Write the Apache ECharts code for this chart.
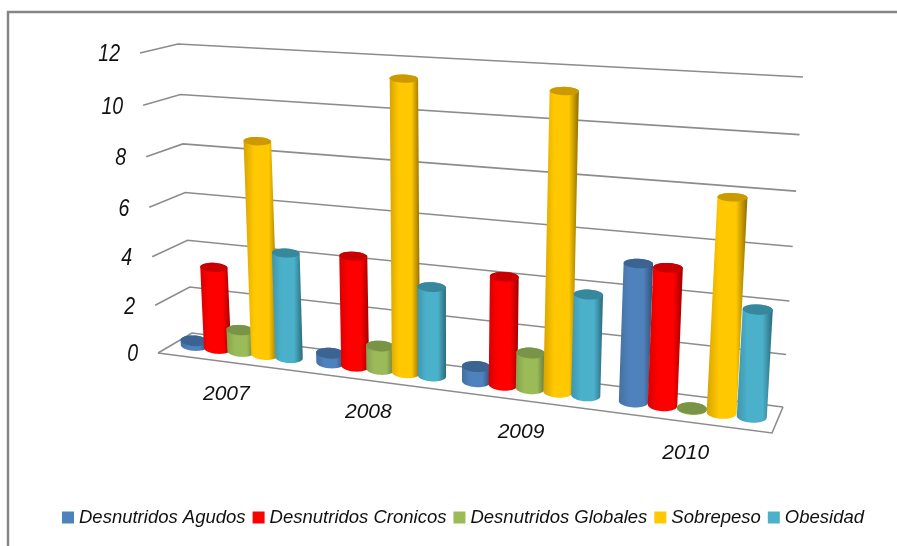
<!DOCTYPE html>
<html><head><meta charset="utf-8">
<script src="https://cdn.jsdelivr.net/npm/echarts@6/dist/echarts.min.js"></script>
<style>html,body{margin:0;padding:0;background:#fff}#c{width:897px;height:546px}</style>
</head><body><div id="c"></div>
<script>
const categories = ['2007','2008','2009','2010'];
const yTicks = [0,2,4,6,8,10,12];
const seriesNames = ['Desnutridos Agudos','Desnutridos Cronicos','Desnutridos Globales','Sobrepeso','Obesidad'];
const desnutridosAgudos = [0.2,0.4,0.6,5.25];
const desnutridosCronicos = [3.4,4.45,4.25,5.2];
const desnutridosGlobales = [0.9,0.95,1.4,0.03];
const sobrepeso = [8.65,11.4,11.3,7.95];
const obesidad = [4.3,3.55,3.9,4.0];
const seriesValues = [desnutridosAgudos,desnutridosCronicos,desnutridosGlobales,sobrepeso,obesidad];
const colors = ['#4F81BD','#FF0000','#9BBB59','#FFC800','#4BB0CA'];
const topColors = ['#3B6492','#C80000','#7A9447','#CC9A00','#37879D'];
const edgeLeft = ['#44709F','#D80000','#86A24C','#D8A300','#3F96AD'];
const edgeRight = ['#2F4F74','#A00000','#64793A','#8F6C00','#2B6A7C'];

// Projection of the 3D box drawn by the original chart
const B00=[192,333],B10=[783,407],B01=[178,44],B11=[803,77];
const F00=[158,353],F10=[772,433],F01=[140,53],F11=[792,92];
const GRID={left:100,top:50,width:600,height:300};
const warp=(t,k)=>t/(t+(1-t)*k);
const lerp=(a,b,t)=>[a[0]+(b[0]-a[0])*t,a[1]+(b[1]-a[1])*t];
function projU(U,v,w){
  const V=warp(v,1.057);
  const back=lerp(lerp(B00,B01,V),lerp(B10,B11,V),U);
  const front=lerp(lerp(F00,F01,V),lerp(F10,F11,V),U);
  return lerp(back,front,w);
}
const normU=x=>(x-GRID.left)/GRID.width;
const normV=y=>(GRID.top+GRID.height-y)/GRID.height;
const warpU=u=>warp(u,1.16);
const STEP=0.176, RADW=0.22, DEPTH=0.5, TILT=0.4;
function ellipsePts(U,v,from,to){
  const c=projU(U,v,DEPTH);
  const a=projU(U-0.02,v,DEPTH), b=projU(U+0.02,v,DEPTH);
  const dx=b[0]-a[0],dy=b[1]-a[1],len=Math.hypot(dx,dy);
  const T=[dx/len,dy/len];
  const f=projU(U,v,1), k=projU(U,v,0);
  const depthY=(f[1]-k[1])-(f[0]-k[0])*T[1]/T[0];
  const rx=13.6+1.6*U, ry=Math.max(RADW*depthY,4.2);
  const pts=[];
  for(let i=0;i<=24;i++){
    const t=from+(to-from)*i/24;
    pts.push([c[0]+rx*Math.cos(t)*T[0],c[1]+rx*Math.cos(t)*T[1]*TILT+ry*Math.sin(t)]);
  }
  return pts;
}
function cylinder(si){
  return function(params,api){
    const idx=api.value(0), val=api.value(1);
    const cx=api.coord([idx,0])[0];
    const band=api.size([1,0])[0];
    const u=normU(cx+(si-2)*STEP*band);
    const v=normV(api.coord([idx,val])[1]);
    const U=warpU(u);
    const body=ellipsePts(U,0,0,Math.PI).concat(ellipsePts(U,v,Math.PI,2*Math.PI));
    const cap=ellipsePts(U,v,0,2*Math.PI);
    return {type:'group',silent:true,children:[
      {type:'polygon',shape:{points:body},style:{fill:new echarts.graphic.LinearGradient(0,0,1,0,[
        {offset:0,color:edgeLeft[si]},{offset:0.3,color:colors[si]},{offset:0.72,color:colors[si]},{offset:1,color:edgeRight[si]}])}},
      {type:'polygon',shape:{points:cap},style:{fill:topColors[si]}}
    ]};
  };
}
const LINE={stroke:'#8C8C8C',lineWidth:1.6,fill:null};
const FONT='italic 23px "Liberation Sans", Arial, sans-serif';
function renderWall(params,api){
  const v=normV(api.coord([0,api.value(0)])[1]);
  const p=[projU(0,v,1),projU(0,v,0),projU(1,v,0)];
  return {type:'group',silent:true,children:[
    {type:'polyline',shape:{points:p},style:LINE},
    {type:'text',x:p[0][0]-20,y:p[0][1]+2,scaleX:0.85,style:{text:String(yTicks[params.dataIndex]),font:FONT,fill:'#111',align:'right',verticalAlign:'middle'}}
  ]};
}
function renderFloor(params,api){
  const p=[projU(0,0,1),projU(1,0,1),projU(1,0,0)];
  return {type:'polyline',silent:true,shape:{points:p},style:LINE};
}
function renderCat(params,api){
  const idx=api.value(0);
  const U=warpU(normU(api.coord([idx,0])[0]));
  const p=projU(U,0,1);
  return {type:'text',silent:true,x:p[0]+1,y:p[1]+32,style:{text:categories[idx],font:'italic 21px "Liberation Sans", Arial, sans-serif',fill:'#111',align:'center',verticalAlign:'middle'}};
}
const chart=echarts.init(document.getElementById('c'),null,{renderer:'canvas'});
const series=[
  {name:'paredes',type:'custom',coordinateSystem:'cartesian2d',clip:false,silent:true,renderItem:renderWall,encode:{x:1,y:0},data:yTicks.map(t=>[t,0])},
  {name:'piso',type:'custom',coordinateSystem:'cartesian2d',clip:false,silent:true,renderItem:renderFloor,data:[[0,0]]},
  {name:'anios',type:'custom',coordinateSystem:'cartesian2d',clip:false,silent:true,renderItem:renderCat,data:categories.map((c,i)=>[i,0])}
];
seriesNames.forEach((n,si)=>series.push({name:n,type:'custom',coordinateSystem:'cartesian2d',clip:false,silent:true,
  itemStyle:{color:colors[si]},renderItem:cylinder(si),encode:{x:0,y:1},data:seriesValues[si].map((v,i)=>[i,v])}));
chart.setOption({
  animation:false,backgroundColor:'#fff',
  grid:{left:GRID.left,top:GRID.top,width:GRID.width,height:GRID.height},
  xAxis:{type:'category',data:categories,show:false},
  yAxis:{type:'value',min:0,max:12,interval:2,show:false},
  legend:{data:seriesNames,left:62,top:508,padding:0,icon:'rect',itemWidth:12,itemHeight:12,itemGap:7,selectedMode:false,
    textStyle:{fontFamily:'Liberation Sans',fontStyle:'italic',fontSize:18.5,color:'#111'}},
  graphic:[{type:'polyline',silent:true,shape:{points:[[8,546],[8,12],[897,12]]},style:{stroke:'#868686',lineWidth:2.5,fill:null}}],
  series
});
</script></body></html>
